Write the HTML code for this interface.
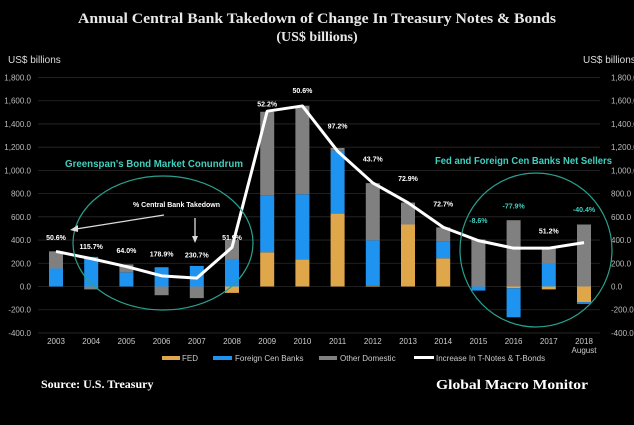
<!DOCTYPE html>
<html><head><meta charset="utf-8"><style>
html,body{margin:0;padding:0;background:#000;}
svg{display:block;font-family:"Liberation Sans",sans-serif;}
</style></head><body>
<svg id="chart" width="634" height="425" viewBox="0 0 634 425">
<rect x="0" y="0" width="634" height="425" fill="#000"/>
<text x="317" y="23" text-anchor="middle" fill="#e8e8e8" font-family="Liberation Serif,serif" font-weight="bold" font-size="15" textLength="478" lengthAdjust="spacingAndGlyphs">Annual Central Bank Takedown of Change In Treasury Notes &amp; Bonds</text>
<text x="317" y="41" text-anchor="middle" fill="#e8e8e8" font-family="Liberation Serif,serif" font-weight="bold" font-size="14">(US$ billions)</text>
<text x="8" y="63" fill="#ddd" font-size="10">US$ billions</text>
<text x="583" y="63" fill="#ddd" font-size="10">US$ billions</text>
<g id="grid"></g><g id="bars"></g><g id="line"></g><g id="labels"></g>
<ellipse cx="163" cy="243" rx="90" ry="67" fill="none" stroke="#2aa08f" stroke-width="1.2"/>
<ellipse cx="536" cy="250" rx="76" ry="77" fill="none" stroke="#2aa08f" stroke-width="1.2"/>
<text x="65" y="167" fill="#40d0c0" font-weight="bold" font-size="10.5" textLength="178" lengthAdjust="spacingAndGlyphs">Greenspan's Bond Market Conundrum</text>
<text x="435" y="164" fill="#40d0c0" font-weight="bold" font-size="10.5" textLength="177" lengthAdjust="spacingAndGlyphs">Fed and Foreign Cen Banks Net Sellers</text>
<text x="133" y="207" fill="#fff" font-weight="bold" font-size="7">%  Central Bank Takedown</text>
<line x1="164" y1="215" x2="76" y2="229" stroke="#ddd" stroke-width="1.3"/>
<polygon points="70,230 78,225 78,232" fill="#ddd"/>
<line x1="195" y1="218" x2="195" y2="238" stroke="#ddd" stroke-width="1.3"/>
<polygon points="195,243 192,236 198,236" fill="#ddd"/>
<g>
<rect x="162" y="356" width="18" height="4" fill="#e0a74a"/>
<text x="182" y="361" fill="#ccc" font-size="8">FED</text>
<rect x="213" y="356" width="19" height="4" fill="#1f93f0"/>
<text x="235" y="361" fill="#ccc" font-size="8">Foreign Cen Banks</text>
<rect x="319" y="356" width="18" height="4" fill="#808080"/>
<text x="340" y="361" fill="#ccc" font-size="8">Other Domestic</text>
<rect x="414" y="356" width="20" height="3" fill="#fff"/>
<text x="436" y="361" fill="#ccc" font-size="8">Increase In T-Notes &amp; T-Bonds</text>
</g>
<text x="41" y="388" fill="#fff" font-family="Liberation Serif,serif" font-weight="bold" font-size="12">Source:  U.S. Treasury</text>
<text x="436" y="389" fill="#fff" font-family="Liberation Serif,serif" font-weight="bold" font-size="14" textLength="152" lengthAdjust="spacingAndGlyphs">Global Macro Monitor</text>
</svg>
<script>
const years = ["2003","2004","2005","2006","2007","2008","2009","2010","2011","2012","2013","2014","2015","2016","2017","2018"];
const fed = [0,0,0,0,0,-55,295,232,628,5,534,243,0,-15,-25,-135];
const foreign = [155,255,122,166,177,237,490,562,542,393,0,143,-35,-250,194,-15];
const other = [148,-25,68,-75,-100,163,720,763,23,492,189,123,405,571,135,534];
const lineVals = [302,240,172,92,72,337,1510,1555,1165,892,722,510,395,330,330,378];
const pctLabels = ["50.6%","115.7%","64.0%","178.9%","230.7%","51.9%","52.2%","50.6%","97.2%","43.7%","72.9%","72.7%","-8.6%","-77.9%","51.2%","-40.4%"];
const pctValues = [400,325,290,260,250,400,1550,1665,1360,1075,910,690,545,670,455,640];
const ticks = [-400,-200,0,200,400,600,800,1000,1200,1400,1600,1800];

const NS="http://www.w3.org/2000/svg";
const y = v => 286.5 - v*(209/1800);
const x = i => 56 + i*35.2;
function mk(tag, attrs, parent){const e=document.createElementNS(NS,tag);for(const k in attrs)e.setAttribute(k,attrs[k]);parent.appendChild(e);return e;}
const grid=document.getElementById('grid'), bars=document.getElementById('bars'), lineG=document.getElementById('line'), labels=document.getElementById('labels');
ticks.forEach(t=>{
  const l=mk('line',{x1:38,x2:600,y1:y(t),y2:y(t),stroke:'#2a2a2a','stroke-width':0.8},grid);
  
  
  const s=t.toLocaleString('en-US',{minimumFractionDigits:1,maximumFractionDigits:1});
  const a=mk('text',{x:31,y:y(t)+3,'text-anchor':'end',fill:'#bbb','font-size':8},grid);a.textContent=s;
  
  
  const b=mk('text',{x:611,y:y(t)+3,fill:'#bbb','font-size':8},grid);b.textContent=s;
  
  
});
const series=[[fed,'#e0a74a','fed'],[foreign,'#1f93f0','foreign'],[other,'#808080','other']];
years.forEach((yr,i)=>{
  let pos=0,neg=0;
  series.forEach(([arr,col,nm])=>{
    const v=arr[i]; if(!v) return;
    let y0,y1;
    if(v>0){y0=pos;y1=pos+v;pos=y1;}else{y0=neg;y1=neg+v;neg=y1;}
    const r=mk('rect',{x:x(i)-7,width:14,y:Math.min(y(y0),y(y1)),height:Math.abs(y(y0)-y(y1)),fill:col},bars);
    
    
  });
  const t=mk('text',{x:x(i),y:344,'text-anchor':'middle',fill:'#ccc','font-size':8},labels);t.textContent=yr;
  
  
  const p=mk('text',{x:x(i),y:y(pctValues[i]),'text-anchor':'middle',fill:(pctLabels[i].startsWith('-')?'#40d0c0':'#fff'),'font-weight':'bold','font-size':7},labels);p.textContent=pctLabels[i];
  
  
});
const aug=mk('text',{x:x(15),y:353,'text-anchor':'middle',fill:'#ccc','font-size':8},labels);aug.textContent='August';


const pl=mk('polyline',{points:lineVals.map((v,i)=>x(i)+','+y(v)).join(' '),fill:'none',stroke:'#fff','stroke-width':3,'stroke-linejoin':'round'},lineG);


</script>
</body></html>
